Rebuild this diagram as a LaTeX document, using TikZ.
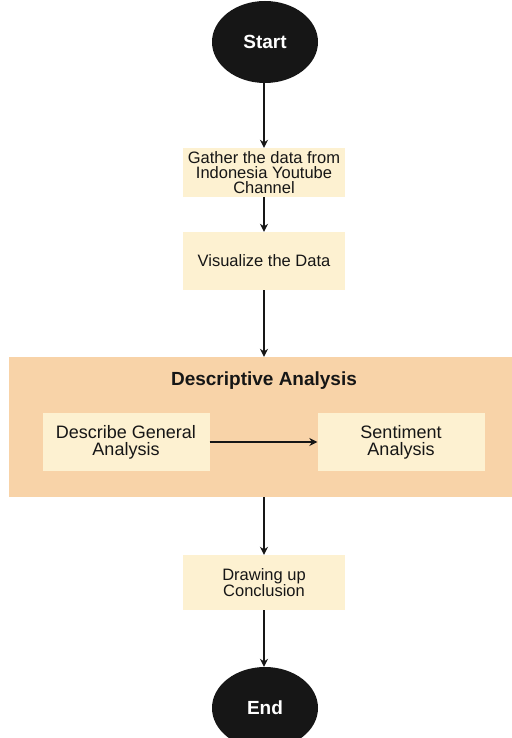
\documentclass[tikz,border=0pt]{standalone}
\usepackage{fontspec}
\setmainfont{Liberation Sans}
\usetikzlibrary{shapes.geometric,arrows.meta}
\definecolor{peach}{RGB}{248,211,168}
\definecolor{cream}{RGB}{253,241,209}
\definecolor{ink}{RGB}{22,22,22}

\begin{document}
\begin{tikzpicture}[x=1pt, y=-1pt,
  term/.style={ellipse, fill=ink, text=white, inner sep=0pt,
    minimum width=106pt, minimum height=82pt,
    font=\bfseries\fontsize{19}{20}\selectfont},
  proc/.style={rectangle, fill=cream, text=ink, align=center,
    minimum width=162pt, inner sep=0pt,
    font=\fontsize{16.5}{15}\selectfont},
  sub/.style={rectangle, fill=cream, text=ink, align=center,
    minimum width=167pt, minimum height=58pt, inner sep=0pt,
    font=\fontsize{18}{17}\selectfont},
  arr/.style={-{Stealth[length=8pt,width=8pt]}, line width=1.2pt, ink}]
\useasboundingbox (0,0) rectangle (511,738);
\node[term] (start) at (265, 42) {Start};
\node[proc, minimum height=49pt] (gd) at (264, 172.5) {Gather the data from\\Indonesia Youtube\\Channel};
\node[proc, minimum height=58pt] (vd) at (264, 261) {Visualize the Data};
\node[rectangle, fill=peach, minimum width=510pt, minimum height=140pt, inner sep=0pt] (da) at (264, 427) {};
\node[text=ink, font=\bfseries\fontsize{19}{20}\selectfont] (dt) at (264, 381) {Descriptive Analysis};
\node[sub] (dg) at (126, 442) {Describe General\\Analysis};
\node[sub] (sa) at (401, 442) {Sentiment\\Analysis};
\node[proc, minimum height=55pt] (dc) at (264, 582.5) {Drawing up\\Conclusion};
\node[term] (e) at (265, 708) {End};
\draw[arr] (start.south -| gd) -- (gd);
\draw[arr] (gd) -- (vd);
\draw[arr] (vd) -- (vd |- da.north);
\draw[arr] (dg) -- (sa);
\draw[arr] (da.south -| dc) -- (dc);
\draw[arr] (dc) -- (dc |- e.north);
\end{tikzpicture}
\end{document}
